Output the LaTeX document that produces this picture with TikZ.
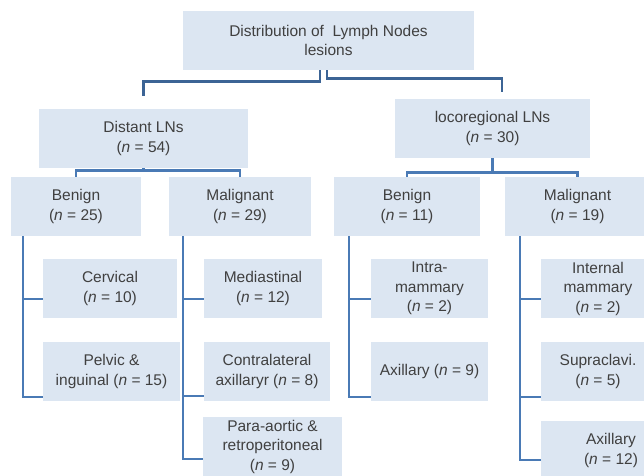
\documentclass[tikz,border=0pt]{standalone}
\usepackage{fontspec}
\setmainfont{Liberation Sans}
\usepackage{tikz}
\usetikzlibrary{calc}
\definecolor{boxblue}{HTML}{DCE6F2}
\definecolor{lineblue}{HTML}{4A7AB5}
\definecolor{topblue}{HTML}{3C6495}
\definecolor{textgray}{HTML}{404040}
\def\nn{\textit{n}}

\begin{document}
\begin{tikzpicture}[x=1pt,y=-1pt]
    \tikzstyle{box}=[fill=boxblue,draw=none,minimum height=59pt,inner sep=2pt,align=center,text=textgray,font=\fontsize{15.5pt}{19.5pt}\selectfont]
    \tikzstyle{conn}=[draw=lineblue,line width=2.6pt]
    \tikzstyle{topconn}=[draw=topblue,line width=2.6pt]

    \clip (0,0) rectangle (644,475);

    % Draw the root node
    \node[box,minimum width=291pt] (T) at (328.5,40.5) {Distribution of \ Lymph Nodes\\lesions};

    % Draw the first level
    \node[box,minimum width=209pt] (D) at (143.5,138.5) {Distant LNs\\(\nn{} = 54)};
    \node[box,minimum width=195pt] (L) at (492.5,128.5) {locoregional LNs\\(\nn{} = 30)};

    % Draw the second level
    \node[box,minimum width=130pt] (DB) at (76,206.5) {Benign\\(\nn{} = 25)};
    \node[box,minimum width=142pt] (DM) at (240,206.5) {Malignant\\(\nn{} = 29)};
    \node[box,minimum width=146pt] (LB) at (407,206.5) {Benign\\(\nn{} = 11)};
    \node[box,minimum width=145pt] (LM) at (577.5,206.5) {Malignant\\(\nn{} = 19)};

    % Draw the leaves
    \node[box,minimum width=134pt] (Cerv) at (110,288.5) {Cervical\\(\nn{} = 10)};
    \node[box,minimum width=137pt] (Pelv) at (111.5,371.5) {Pelvic \&\\inguinal (\nn{} = 15)};
    \node[box,minimum width=118pt] (Medi) at (263,288.5) {Mediastinal\\(\nn{} = 12)};
    \node[box,minimum width=126pt] (Contra) at (267,371.5) {Contralateral\\axillaryr (\nn{} = 8)};
    \node[box,minimum width=139pt] (Para) at (272.5,446.5) {Para-aortic \&\\retroperitoneal\\(\nn{} = 9)};
    \node[box,minimum width=117pt] (Intra) at (429.5,288.5) {Intra-\\mammary\\(\nn{} = 2)};
    \node[box,minimum width=117pt] (AxL) at (429.5,371.5) {Axillary (\nn{} = 9)};
    \node[box,minimum width=114pt] (IntM) at (598,288.5) {Internal\\mammary\\(\nn{} = 2)};
    \node[box,minimum width=114pt] (Supra) at (598,371.5) {Supraclavi.\\(\nn{} = 5)};
    \node[box,minimum width=140pt] (AxR) at (611,450.5) {Axillary\\(\nn{} = 12)};

    % Draw the connectors from the root
    \draw[topconn] ([xshift=-8.5pt]T.south) -- ++(0pt,-11pt) -| ([yshift=13pt]D.north);
    \draw[topconn] ([xshift=-1.5pt]T.south) -- ++(0pt,-8pt) -| ([xshift=9.5pt,yshift=7pt]L.north);

    % Draw the connectors of the first level
    \foreach \kid in {DB,DM}
        \draw[conn] (D.south) -- ++(0pt,-2pt) -| (\kid.north);
    \foreach \kid in {LB,LM}
        \draw[conn] (L.south) -- ++(0pt,-14pt) -| (\kid.north);

    % Draw the connectors to the leaves
    \foreach \leaf / \dy in {Cerv/-10.5,Pelv/-25.5}
        \draw[conn] ([xshift=-53pt]DB.south) |- ([yshift=\dy pt]\leaf.west);
    \foreach \leaf / \dy in {Medi/-10.5,Contra/-24.5,Para/-12.5}
        \draw[conn] ([xshift=-57pt]DM.south) |- ([yshift=\dy pt]\leaf.west);
    \foreach \leaf / \dy in {Intra/-10.5,AxL/-25.5}
        \draw[conn] ([xshift=-58pt]LB.south) |- ([yshift=\dy pt]\leaf.west);
    \foreach \leaf / \dy in {IntM/-10.5,Supra/-25.5,AxR/-9.5}
        \draw[conn] ([xshift=-57.5pt]LM.south) |- ([yshift=\dy pt]\leaf.west);

\end{tikzpicture}
\end{document}
